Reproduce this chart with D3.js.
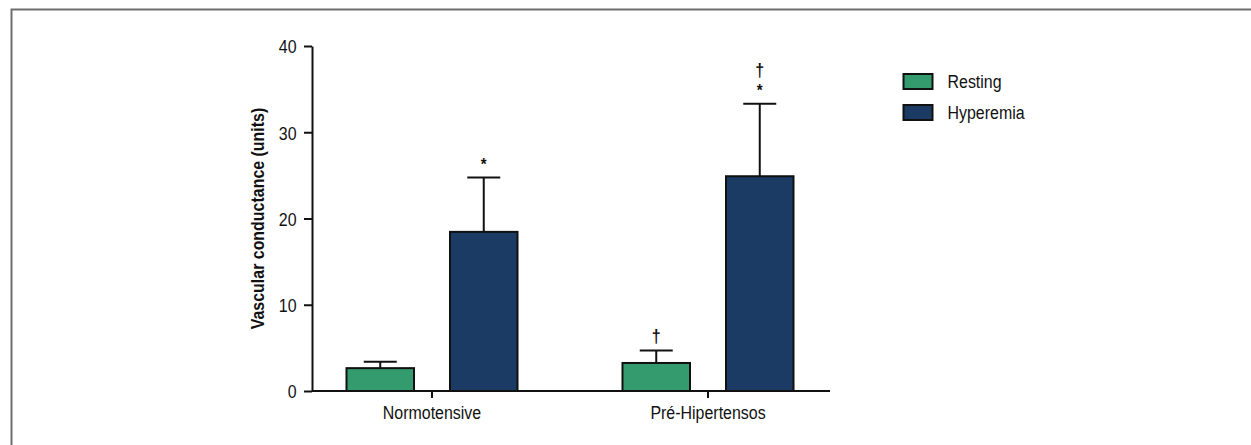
<!DOCTYPE html>
<html>
<head>
<meta charset="utf-8">
<script src="https://cdn.jsdelivr.net/npm/d3@7"></script>
<style>
  html, body { margin: 0; padding: 0; background: #fff; }
  svg { display: block; font-family: "Liberation Sans", Arial, sans-serif; }
</style>
</head>
<body>
<svg id="chart" width="1251" height="445"></svg>
<script>
// ---- data ----
const categories = ["Normotensive", "Pré-Hipertensos"];
const seriesNames = ["Resting", "Hyperemia"];
const restingMean = [2.65, 3.25];
const restingErr = [0.75, 1.45];
const hyperemiaMean = [18.45, 24.9];
const hyperemiaErr = [6.3, 8.4];
// significance marks, listed bottom to top
const restingMarks = [[], ["†"]];
const hyperemiaMarks = [["*"], ["*", "†"]];
const yTicks = [0, 10, 20, 30, 40];
const colors = ["#339b6e", "#1b3a64"];
const yLabel = "Vascular conductance (units)";

const svg = d3.select("#chart");
const SX = 0.84;
const FS = 19;

// frame
svg.append("path")
  .attr("d", "M11.5,445V9.5H1251")
  .attr("fill", "none")
  .attr("stroke", "#6e6e6e")
  .attr("stroke-width", 2);

const y = d3.scaleLinear().domain([0, 40]).range([391, 46]);
const x = d3.scaleBand().domain(categories).range([311, 829])
  .paddingInner(0.3804).paddingOuter(0.1286);
const xs = d3.scaleBand().domain(seriesNames).range([0, x.bandwidth()])
  .paddingInner(0.3478);

const rows = categories.map((c, i) => ({
  cat: c,
  values: [
    { s: seriesNames[0], v: restingMean[i], e: restingErr[i], marks: restingMarks[i], color: colors[0] },
    { s: seriesNames[1], v: hyperemiaMean[i], e: hyperemiaErr[i], marks: hyperemiaMarks[i], color: colors[1] }
  ]
}));

const groups = svg.append("g").selectAll("g").data(rows).join("g")
  .attr("transform", d => `translate(${x(d.cat)},0)`);

const bars = groups.selectAll("g.bar").data(d => d.values).join("g").attr("class", "bar");

// error bars
bars.append("line")
  .attr("x1", d => xs(d.s) + xs.bandwidth() / 2)
  .attr("x2", d => xs(d.s) + xs.bandwidth() / 2)
  .attr("y1", d => y(d.v))
  .attr("y2", d => y(d.v + d.e))
  .attr("stroke", "#111").attr("stroke-width", 2);
bars.append("line")
  .attr("x1", d => xs(d.s) + xs.bandwidth() / 2 - 16.5)
  .attr("x2", d => xs(d.s) + xs.bandwidth() / 2 + 16.5)
  .attr("y1", d => y(d.v + d.e))
  .attr("y2", d => y(d.v + d.e))
  .attr("stroke", "#111").attr("stroke-width", 2);

bars.append("rect")
  .attr("x", d => xs(d.s))
  .attr("y", d => y(d.v))
  .attr("width", xs.bandwidth())
  .attr("height", d => y(0) - y(d.v))
  .attr("fill", d => d.color)
  .attr("stroke", "#111")
  .attr("stroke-width", 2);

// significance marks
bars.each(function(d) {
  const g = d3.select(this);
  const cx = xs(d.s) + xs.bandwidth() / 2;
  let top = y(d.v + d.e);
  d.marks.forEach((m, k) => {
    const isStar = m === "*";
    const centre = top - (isStar ? 17 : 14) - (k > 0 ? 3 : 0);
    g.append("text")
      .attr("transform", isStar
        ? `translate(${cx},${centre + 9}) scale(1,1.1)`
        : `translate(${cx},${centre + 6}) scale(1,1.15)`)
      .attr("text-anchor", "middle")
      .attr("font-size", isStar ? 15 : 16)
      .attr("font-weight", "bold")
      .attr("fill", "#111")
      .text(m);
    top = centre;
  });
});

// y axis
const yAxis = svg.append("g")
  .attr("transform", `translate(312,0)`)
  .call(d3.axisLeft(y).tickValues(yTicks).tickSize(8).tickSizeOuter(0));
yAxis.select(".domain").attr("stroke", "#111").attr("stroke-width", 2);
yAxis.selectAll(".tick line").attr("stroke", "#111").attr("stroke-width", 2);
yAxis.selectAll(".tick text")
  .attr("x", -15.5 / SX)
  .attr("dy", "0.36em")
  .attr("transform", `scale(${SX},1)`)
  .attr("font-size", FS)
  .attr("font-family", '"Liberation Sans", Arial, sans-serif')
  .attr("fill", "#111");

// x axis
const xAxis = svg.append("g")
  .attr("transform", `translate(0,391)`)
  .call(d3.axisBottom(x).tickSize(7).tickSizeOuter(0));
xAxis.select(".domain").attr("stroke", "#111").attr("stroke-width", 2)
  .attr("d", `M312,0H830`);
xAxis.selectAll(".tick line").attr("stroke", "#111").attr("stroke-width", 2);
xAxis.selectAll(".tick text")
  .attr("y", 28.5).attr("dy", 0)
  .attr("transform", `scale(${SX},1)`)
  .attr("font-size", FS)
  .attr("font-family", '"Liberation Sans", Arial, sans-serif')
  .attr("fill", "#111");

// y label
svg.append("text")
  .attr("transform", `translate(264,${(y(0) + y(40)) / 2}) rotate(-90) scale(${SX},1)`)
  .attr("text-anchor", "middle")
  .attr("font-size", FS)
  .attr("font-weight", "bold")
  .attr("fill", "#111")
  .text(yLabel);

// legend
const legend = svg.append("g").attr("transform", "translate(903.5,74)");
const li = legend.selectAll("g").data(seriesNames).join("g")
  .attr("transform", (d, i) => `translate(0,${i * 31})`);
li.append("rect")
  .attr("width", 29).attr("height", 15)
  .attr("fill", (d, i) => colors[i])
  .attr("stroke", "#111").attr("stroke-width", 2);
li.append("text")
  .attr("transform", `translate(44,14) scale(${SX},1)`)
  .attr("font-size", FS)
  .attr("fill", "#111")
  .text(d => d);
</script>
</body>
</html>
